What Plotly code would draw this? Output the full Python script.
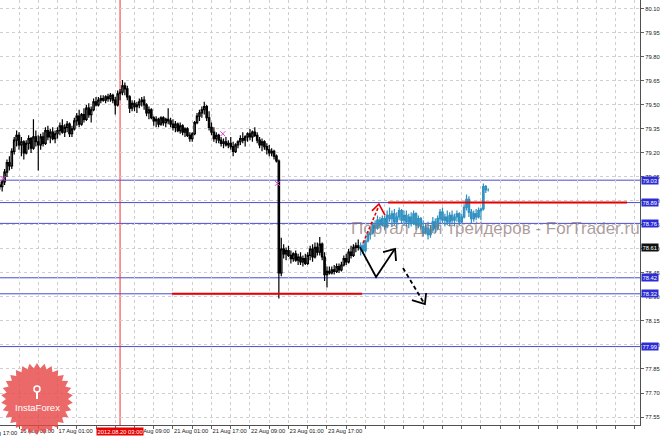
import numpy as np
import plotly.graph_objects as go

# ---------------- data (H1 bars, x = bar index) ----------------
hist_open = [79.00, 78.99, 79.02, 79.08, 79.14, 79.12, 79.21, 79.28,
             79.31, 79.25, 79.27, 79.20, 79.26, 79.29, 79.23, 79.30, 79.27, 79.25,
             79.30, 79.26, 79.34, 79.30, 79.33, 79.29, 79.32, 79.34, 79.37, 79.33,
             79.36, 79.38, 79.32, 79.35, 79.40, 79.43, 79.38, 79.44, 79.41, 79.48,
             79.44, 79.47, 79.52, 79.50, 79.53, 79.54, 79.53, 79.55, 79.54, 79.56,
             79.53, 79.50, 79.57, 79.58, 79.62, 79.60, 79.55, 79.48, 79.51, 79.49,
             79.50, 79.52, 79.53, 79.50, 79.45, 79.47, 79.42, 79.40, 79.41, 79.38,
             79.42, 79.39, 79.41, 79.40, 79.38, 79.36, 79.38, 79.34, 79.37, 79.33,
             79.35, 79.31, 79.29, 79.32, 79.39, 79.43, 79.45, 79.47, 79.49, 79.42,
             79.36, 79.33, 79.29, 79.31, 79.28, 79.26, 79.27, 79.25, 79.26, 79.24,
             79.21, 79.25, 79.27, 79.29, 79.28, 79.30, 79.32, 79.30, 79.33, 79.31,
             79.28, 79.25, 79.27, 79.24, 79.22, 79.20, 79.21, 79.18, 79.15, 78.45,
             78.60, 78.57, 78.59, 78.56, 78.54, 78.57, 78.53, 78.55, 78.52, 78.54,
             78.51, 78.56, 78.60, 78.55, 78.61, 78.58, 78.63, 78.55, 78.44, 78.46,
             78.45, 78.47, 78.46, 78.49, 78.47, 78.50, 78.54, 78.52, 78.58, 78.56,
             78.61, 78.62]
hist_high = [79.02, 79.03, 79.10, 79.16, 79.18, 79.23, 79.30, 79.34,
             79.33, 79.30, 79.28, 79.28, 79.31, 79.30, 79.41, 79.34, 79.31, 79.32,
             79.33, 79.36, 79.37, 79.35, 79.36, 79.34, 79.36, 79.39, 79.41, 79.38,
             79.40, 79.39, 79.37, 79.42, 79.45, 79.47, 79.45, 79.48, 79.50, 79.51,
             79.49, 79.54, 79.55, 79.55, 79.56, 79.56, 79.56, 79.57, 79.575, 79.57,
             79.55, 79.59, 79.60, 79.656, 79.64, 79.62, 79.56, 79.53, 79.53, 79.52,
             79.54, 79.55, 79.555, 79.51, 79.49, 79.48, 79.43, 79.43, 79.42, 79.43,
             79.43, 79.42, 79.48, 79.42, 79.41, 79.40, 79.39, 79.39, 79.38, 79.36,
             79.36, 79.33, 79.33, 79.40, 79.45, 79.47, 79.49, 79.52, 79.50, 79.46,
             79.39, 79.36, 79.33, 79.32, 79.30, 79.29, 79.30, 79.28, 79.30, 79.27,
             79.26, 79.28, 79.31, 79.33, 79.31, 79.33, 79.35, 79.34, 79.36, 79.33,
             79.30, 79.29, 79.28, 79.26, 79.25, 79.23, 79.22, 79.19, 79.16, 78.67,
             78.63, 78.61, 78.62, 78.59, 78.58, 78.59, 78.57, 78.58, 78.56, 78.57,
             78.58, 78.62, 78.63, 78.64, 78.64, 78.675, 78.64, 78.58, 78.49, 78.49,
             78.49, 78.50, 78.51, 78.51, 78.52, 78.56, 78.57, 78.60, 78.62, 78.63,
             78.64, 78.66]
hist_low = [78.97, 78.96, 79.00, 79.05, 79.09, 79.10, 79.19, 79.24,
            79.22, 79.18, 79.16, 79.19, 79.22, 79.20, 79.22, 79.24, 79.09, 79.22,
            79.24, 79.25, 79.28, 79.26, 79.28, 79.26, 79.29, 79.31, 79.32, 79.30,
            79.33, 79.30, 79.30, 79.34, 79.37, 79.36, 79.37, 79.39, 79.40, 79.42,
            79.39, 79.46, 79.49, 79.49, 79.51, 79.52, 79.51, 79.52, 79.52, 79.51,
            79.44, 79.49, 79.53, 79.56, 79.56, 79.53, 79.45, 79.46, 79.46, 79.45,
            79.48, 79.49, 79.47, 79.43, 79.41, 79.41, 79.37, 79.36, 79.36, 79.37,
            79.37, 79.36, 79.38, 79.36, 79.34, 79.33, 79.33, 79.32, 79.31, 79.30,
            79.30, 79.27, 79.27, 79.31, 79.38, 79.40, 79.42, 79.44, 79.40, 79.34,
            79.31, 79.27, 79.26, 79.26, 79.24, 79.23, 79.24, 79.23, 79.22, 79.18,
            79.20, 79.23, 79.25, 79.26, 79.24, 79.27, 79.28, 79.27, 79.30, 79.26,
            79.23, 79.21, 79.22, 79.19, 79.18, 79.18, 79.16, 79.14, 78.29, 78.43,
            78.54, 78.53, 78.55, 78.51, 78.52, 78.52, 78.50, 78.50, 78.49, 78.50,
            78.50, 78.53, 78.52, 78.54, 78.56, 78.56, 78.53, 78.40, 78.36, 78.44,
            78.44, 78.44, 78.45, 78.45, 78.46, 78.49, 78.50, 78.51, 78.54, 78.55,
            78.58, 78.59]
hist_close = [78.99, 79.02, 79.08, 79.14, 79.12, 79.21, 79.28, 79.31,
              79.25, 79.27, 79.20, 79.26, 79.29, 79.23, 79.30, 79.27, 79.25, 79.30,
              79.26, 79.34, 79.30, 79.33, 79.29, 79.32, 79.34, 79.37, 79.33, 79.36,
              79.38, 79.32, 79.35, 79.40, 79.43, 79.38, 79.44, 79.41, 79.48, 79.44,
              79.47, 79.52, 79.50, 79.53, 79.54, 79.53, 79.55, 79.54, 79.56, 79.53,
              79.50, 79.57, 79.58, 79.62, 79.60, 79.55, 79.48, 79.51, 79.49, 79.50,
              79.52, 79.53, 79.50, 79.45, 79.47, 79.42, 79.40, 79.41, 79.38, 79.42,
              79.39, 79.41, 79.40, 79.38, 79.36, 79.38, 79.34, 79.37, 79.33, 79.35,
              79.31, 79.29, 79.32, 79.39, 79.43, 79.45, 79.47, 79.49, 79.42, 79.36,
              79.33, 79.29, 79.31, 79.28, 79.26, 79.27, 79.25, 79.26, 79.24, 79.21,
              79.25, 79.27, 79.29, 79.28, 79.30, 79.32, 79.30, 79.33, 79.31, 79.28,
              79.25, 79.27, 79.24, 79.22, 79.20, 79.21, 79.18, 79.15, 78.45, 78.60,
              78.57, 78.59, 78.56, 78.54, 78.57, 78.53, 78.55, 78.52, 78.54, 78.51,
              78.56, 78.60, 78.55, 78.61, 78.58, 78.63, 78.55, 78.44, 78.46, 78.45,
              78.47, 78.46, 78.49, 78.47, 78.50, 78.54, 78.52, 78.58, 78.56, 78.61,
              78.62, 78.61]
hist_x = list(range(-8, 142))

fc_open = [78.60, 78.62, 78.59, 78.65, 78.69, 78.70, 78.75, 78.73, 78.78, 78.75,
           78.79, 78.74, 78.81, 78.79, 78.82, 78.77, 78.80, 78.84, 78.78, 78.81,
           78.77, 78.80, 78.76, 78.82, 78.75, 78.79, 78.74, 78.70, 78.73, 78.69,
           78.72, 78.77, 78.73, 78.79, 78.83, 78.78, 78.80, 78.77, 78.81, 78.78,
           78.80, 78.82, 78.77, 78.80, 78.86, 78.91, 78.83, 78.79, 78.82, 78.80,
           78.84, 78.85, 78.99, 78.97]
fc_high = [78.64, 78.64, 78.66, 78.71, 78.73, 78.77, 78.78, 78.81, 78.80, 78.81,
           78.81, 78.84, 78.86, 78.84, 78.85, 78.83, 78.86, 78.85, 78.84, 78.84,
           78.82, 78.83, 78.84, 78.83, 78.81, 78.80, 78.78, 78.76, 78.77, 78.75,
           78.80, 78.79, 78.81, 78.85, 78.86, 78.82, 78.84, 78.83, 78.84, 78.82,
           78.84, 78.83, 78.82, 78.88, 78.94, 78.93, 78.85, 78.84, 78.85, 78.86,
           78.86, 79.01, 79.00, 78.98]
fc_low = [78.56, 78.57, 78.58, 78.64, 78.66, 78.69, 78.71, 78.72, 78.73, 78.74,
          78.72, 78.73, 78.77, 78.74, 78.75, 78.73, 78.78, 78.76, 78.75, 78.74,
          78.73, 78.74, 78.75, 78.72, 78.73, 78.72, 78.68, 78.69, 78.66, 78.67,
          78.70, 78.70, 78.72, 78.76, 78.76, 78.74, 78.75, 78.74, 78.76, 78.74,
          78.77, 78.75, 78.76, 78.79, 78.84, 78.80, 78.76, 78.77, 78.78, 78.79,
          78.78, 78.84, 78.95, 78.96]
fc_close = [78.62, 78.59, 78.65, 78.69, 78.70, 78.75, 78.73, 78.78, 78.75, 78.79,
            78.74, 78.81, 78.79, 78.82, 78.77, 78.80, 78.84, 78.78, 78.81, 78.77,
            78.80, 78.76, 78.82, 78.75, 78.79, 78.74, 78.70, 78.73, 78.69, 78.72,
            78.77, 78.73, 78.79, 78.83, 78.78, 78.80, 78.77, 78.81, 78.78, 78.80,
            78.82, 78.77, 78.80, 78.86, 78.91, 78.83, 78.79, 78.82, 78.80, 78.84,
            78.85, 78.99, 78.97, 78.97]
fc_x = list(range(142, 196))

tick_pos = [0, 16, 32, 48, 64, 80, 96, 112, 128]
tick_text = ["16 Aug 09:00", "17 Aug 01:00", "17 Aug 17:00", "20 Aug 09:00",
             "21 Aug 01:00", "21 Aug 17:00", "22 Aug 09:00", "23 Aug 01:00",
             "23 Aug 17:00"]
price_ticks = [80.10, 79.95, 79.80, 79.65, 79.50, 79.35, 79.20, 79.05, 78.90,
               78.75, 78.60, 78.45, 78.30, 78.15, 78.00, 77.85, 77.70, 77.55]

blue_levels = [79.03, 78.89, 78.76, 78.42, 78.32, 77.99]
bid_level = 78.61
red_levels = [78.32, 78.89]
red_from = [63.6, 153.4]
red_to = [142.6, 252.7]
vline_bar = 42
vline_label = "2012.08.20 03:00"
cross_x = [-6.6, 84.7, 107.4]
cross_y = [79.04, 79.32, 79.01]

# analyst drawings (bar index, price)
red_arrow_x = [143.0, 149.2]
red_arrow_y = [78.637, 78.856]
red_head_x = [146.7, 149.6, 152.1]
red_head_y = [78.838, 78.881, 78.812]
blk_v_x = [141.7, 148.4, 155.9]
blk_v_y = [78.612, 78.425, 78.594]
blk_head1_x = [151.3, 156.3, 156.7]
blk_head1_y = [78.581, 78.600, 78.525]
blk_dash_x = [159.6, 168.3]
blk_dash_y = [78.481, 78.262]
blk_head2_x = [163.3, 168.7, 169.2]
blk_head2_y = [78.281, 78.256, 78.325]

# ---------------- figure ----------------
W, H = 665, 436
PW, PH = 640, 425
X0, X1 = -7.9, 258.1
Y0, Y1 = 77.50, 80.156

fig = go.Figure()

fig.add_trace(go.Candlestick(
    x=hist_x, open=hist_open, high=hist_high, low=hist_low, close=hist_close,
    increasing=dict(line=dict(color="#000000", width=1.2), fillcolor="#ffffff"),
    decreasing=dict(line=dict(color="#000000", width=1.2), fillcolor="#000000"),
    whiskerwidth=0, showlegend=False, hoverinfo="skip"))
fig.add_trace(go.Candlestick(
    x=fc_x, open=fc_open, high=fc_high, low=fc_low, close=fc_close,
    increasing=dict(line=dict(color="#2f8fbf", width=1.2), fillcolor="#45a8d4"),
    decreasing=dict(line=dict(color="#2f8fbf", width=1.2), fillcolor="#45a8d4"),
    whiskerwidth=0, showlegend=False, hoverinfo="skip"))

# drawings
def add_line(xs, ys, color, dash="solid", width=2):
    fig.add_trace(go.Scatter(x=xs, y=ys, mode="lines",
                             line=dict(color=color, width=width, dash=dash),
                             showlegend=False, hoverinfo="skip"))

for y, a, b in zip(red_levels, red_from, red_to):
    add_line([a, b], [y, y], "#e80000", width=2)
add_line(red_arrow_x, red_arrow_y, "#e80000", dash="3px,2px", width=1.6)
add_line(red_head_x, red_head_y, "#e80000", width=1.6)
add_line(blk_v_x, blk_v_y, "#000000", width=1.8)
add_line(blk_head1_x, blk_head1_y, "#000000", width=1.8)
add_line(blk_dash_x, blk_dash_y, "#000000", dash="4px,3px", width=1.8)
add_line(blk_head2_x, blk_head2_y, "#000000", width=1.8)

fig.add_trace(go.Scatter(x=cross_x, y=cross_y, mode="markers",
                         marker=dict(symbol="x-thin", size=5,
                                     line=dict(color="#e040d0", width=1)),
                         showlegend=False, hoverinfo="skip"))

shapes = []
for lv in blue_levels:
    shapes.append(dict(type="line", xref="paper", x0=0, x1=1, yref="y", y0=lv, y1=lv,
                       line=dict(color="#4a4ad0", width=1), layer="below"))
shapes.append(dict(type="line", xref="x", x0=vline_bar, x1=vline_bar, yref="paper",
                   y0=0, y1=1, line=dict(color="#f03030", width=1), layer="below"))

# InstaForex logo (starburst) in paper coordinates
cx, cy, r_out, r_in, n_pts = 37, 399, 36, 31, 30
ang = np.linspace(0, 2 * np.pi, 2 * n_pts, endpoint=False) - np.pi / 2
rad = np.where(np.arange(2 * n_pts) % 2 == 0, r_out, r_in)
px = cx + rad * np.cos(ang)
py = cy + rad * np.sin(ang)
path = "M " + " L ".join(f"{x / PW:.5f},{(PH - y) / PH:.5f}" for x, y in zip(px, py)) + " Z"
shapes.append(dict(type="path", xref="paper", yref="paper", path=path,
                   fillcolor="rgba(232,72,72,0.82)", line=dict(width=0), layer="above"))
# small emblem
shapes.append(dict(type="circle", xref="paper", yref="paper",
                   x0=(cx - 3) / PW, x1=(cx + 3) / PW,
                   y0=(PH - 392) / PH, y1=(PH - 386) / PH,
                   line=dict(color="white", width=1.5), layer="above"))
shapes.append(dict(type="line", xref="paper", yref="paper",
                   x0=cx / PW, x1=cx / PW, y0=(PH - 392) / PH, y1=(PH - 399) / PH,
                   line=dict(color="white", width=2), layer="above"))

annotations = []
small = dict(family="Liberation Sans, Arial, sans-serif", size=5.8)
for lv in blue_levels:
    annotations.append(dict(xref="paper", x=1, xanchor="left", xshift=1, yref="y", y=lv,
                            yanchor="middle", text=f"{lv:.2f}", showarrow=False,
                            bgcolor="#2c2cd4", borderpad=0.5,
                            font=dict(small, color="white")))
annotations.append(dict(xref="paper", x=1, xanchor="left", xshift=1, yref="y", y=bid_level,
                        yanchor="middle", text=f"{bid_level:.2f}", showarrow=False,
                        bgcolor="#101010", borderpad=0.5, font=dict(small, color="white")))
annotations.append(dict(xref="x", x=vline_bar, xanchor="center", yref="paper", y=0,
                        yanchor="top", yshift=-1.5, text=vline_label, showarrow=False,
                        bgcolor="#e80000", borderpad=0.5, font=dict(small, color="white")))
annotations.append(dict(xref="paper", x=-19.5 / PW, xanchor="left", yref="paper", y=0,
                        yanchor="top", yshift=-2.5, text="15 Aug 17:00", showarrow=False,
                        font=dict(small, color="#202020")))
annotations.append(dict(xref="x", x=137.2, xanchor="left", yref="y", y=78.725,
                        yanchor="middle", text="Портал для трейдеров - ForTrader.ru",
                        showarrow=False,
                        font=dict(family="Liberation Sans, Arial, sans-serif", size=17,
                                  color="rgba(140,118,118,0.72)")))
annotations.append(dict(xref="paper", x=cx / PW, xanchor="center", yref="paper",
                        y=(PH - 407) / PH, yanchor="middle", text="InstaForex",
                        showarrow=False,
                        font=dict(family="Liberation Sans, Arial, sans-serif", size=9.5,
                                  color="white")))

grid_vals = list(range(-8, 264, 8))
grid_text = [tick_text[tick_pos.index(v)] if v in tick_pos else "" for v in grid_vals]

fig.update_layout(
    width=W, height=H,
    margin=dict(l=0, r=W - PW, t=0, b=H - PH),
    paper_bgcolor="white", plot_bgcolor="white",
    shapes=shapes, annotations=annotations, showlegend=False,
    boxgap=0.15,
    xaxis=dict(range=[X0, X1], tickmode="array", tickvals=grid_vals, ticktext=grid_text,
               ticks="outside", ticklen=3, tickcolor="#606060", tickangle=0,
               ticklabelposition="outside right",
               tickfont=dict(small, color="#202020"),
               showline=True, linecolor="#505050", linewidth=1,
               showgrid=True, gridcolor="#cfcfcf", griddash="3px,3px", gridwidth=1,
               zeroline=False, rangeslider=dict(visible=False), automargin=False),
    yaxis=dict(range=[Y0, Y1], side="right", tickmode="array", tickvals=price_ticks,
               ticktext=[f"{v:.2f}" for v in price_ticks],
               ticks="outside", ticklen=3, tickcolor="#606060",
               tickfont=dict(small, color="#202020"),
               showline=True, linecolor="#505050", linewidth=1,
               showgrid=True, gridcolor="#cfcfcf", griddash="3px,3px", gridwidth=1,
               zeroline=False, automargin=False),
)

fig.write_html("out.html", config={"displayModeBar": False},
               post_script="document.body.style.margin='0';document.body.style.overflow='hidden';")
